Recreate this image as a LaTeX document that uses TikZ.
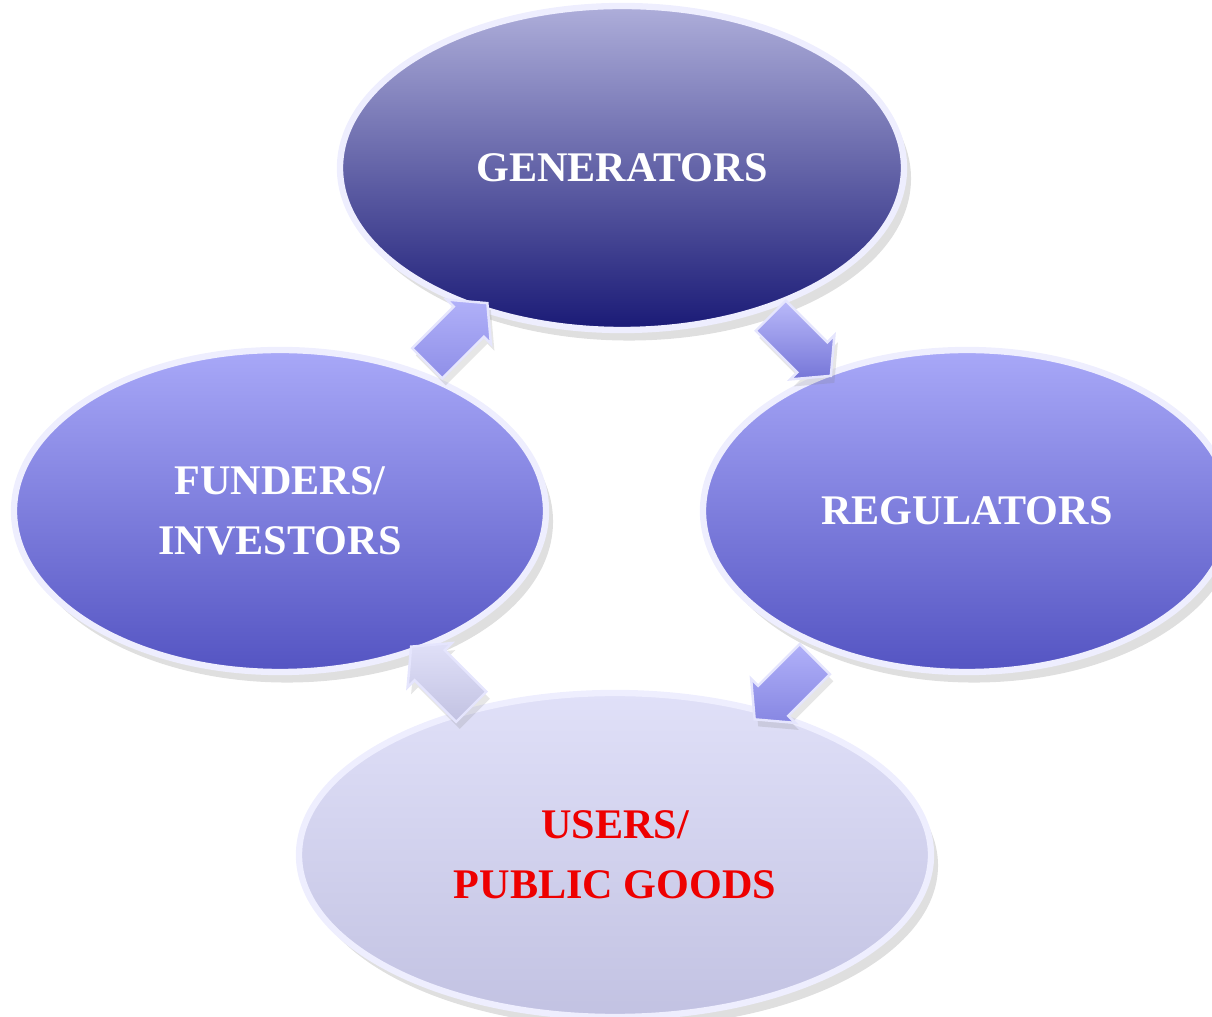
\documentclass[tikz,border=0pt]{standalone}
\usepackage{fontspec}
\setmainfont{Liberation Serif}
\usetikzlibrary{shapes.geometric,shapes.arrows,shadows,calc}

\definecolor{genTop}{RGB}{174,174,218}
\definecolor{genBot}{RGB}{26,26,118}
\definecolor{sideTop}{RGB}{168,168,248}
\definecolor{sideBot}{RGB}{84,84,194}
\definecolor{userTop}{RGB}{224,224,248}
\definecolor{userBot}{RGB}{194,194,226}
\definecolor{goodsRed}{RGB}{238,0,0}

\begin{document}
\begin{tikzpicture}
	\tikzstyle{role}=[ellipse,draw=white!80!sideTop,line width=1.8pt,align=center,inner sep=0,text=white,font=\fontsize{12}{17}\selectfont\bfseries,drop shadow={opacity=0.25,shadow xshift=2pt,shadow yshift=-3pt}]
	\tikzstyle{cyc}=[single arrow,draw=white!70!sideTop,line width=0.7pt,inner xsep=0.1cm,inner ysep=0.2cm,minimum height=0.85cm,single arrow head extend=0.1cm,single arrow tip angle=100,drop shadow={opacity=0.2,shadow xshift=1pt,shadow yshift=-2pt}]
	
	\useasboundingbox (0,0) rectangle (12.12,-10.17);
	
	\node [role, top color=genTop, bottom color=genBot, minimum width=5.64cm, minimum height=3.24cm] (gen) at (6.22, -1.68) {GENERATORS};
	\node [role, top color=sideTop, bottom color=sideBot, minimum width=5.32cm, minimum height=3.22cm] (fund) at (2.80, -5.11) {FUNDERS/\\INVESTORS};
	\node [role, top color=sideTop, bottom color=sideBot, minimum width=5.28cm, minimum height=3.22cm] (reg) at (9.67, -5.11) {REGULATORS};
	\node [role, top color=userTop, bottom color=userBot, text=goodsRed, minimum width=6.32cm, minimum height=3.24cm] (user) at (6.15, -8.55) {USERS/\\PUBLIC GOODS};
	
	\node [cyc, top color=sideTop!90!white, bottom color=sideTop!70!sideBot, rotate=45] (a1) at ($(fund)!0.5!(gen)$) {};
	\node [cyc, top color=sideTop!80!white, bottom color=sideTop!40!sideBot, rotate=-45] (a2) at ($(gen)!0.5!(reg)$) {};
	\node [cyc, top color=sideTop!90!white, bottom color=sideTop!60!sideBot, rotate=-135] (a3) at ($(reg)!0.5!(user)$) {};
	\node [cyc, top color=userTop, bottom color=userBot, rotate=135] (a4) at ($(user)!0.5!(fund)$) {};
\end{tikzpicture}
\end{document}
